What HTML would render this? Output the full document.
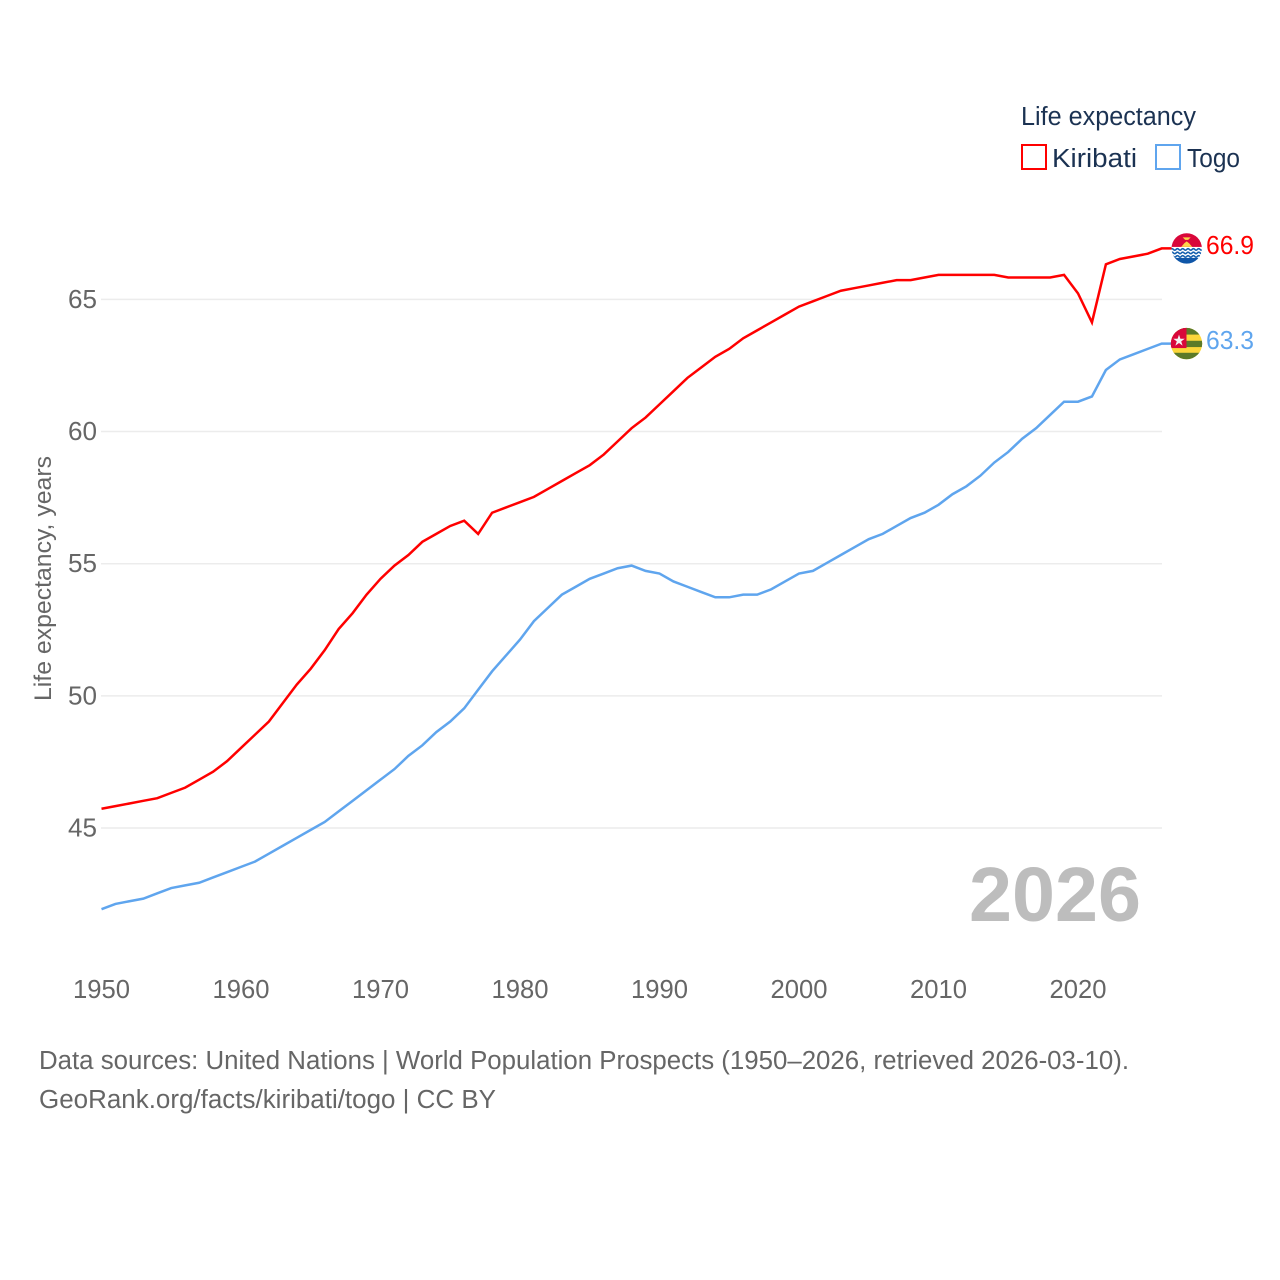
<!DOCTYPE html>
<html lang="en">
<head>
<meta charset="utf-8">
<title>Life expectancy: Kiribati and Togo</title>
<style>
html,body{margin:0;padding:0;background:#fff;width:1280px;height:1280px;overflow:hidden}
svg{display:block}
text{font-family:"Liberation Sans",sans-serif}
</style>
</head>
<body>
<svg id="chart" xmlns="http://www.w3.org/2000/svg" width="1280" height="1280" viewBox="0 0 1280 1280">
  <rect width="1280" height="1280" fill="#fff"/>
  <g id="grid"></g>
  <g id="yticks"></g>
  <g id="xticks"></g>
  <text transform="translate(51,701) rotate(-90)" font-size="24.5" fill="#666" textLength="245" lengthAdjust="spacingAndGlyphs">Life expectancy, years</text>
  <text x="969" y="921" font-size="77" font-weight="bold" fill="#bdbdbd" textLength="172" lengthAdjust="spacingAndGlyphs">2026</text>
  <g id="series"></g>

  <g>
    <text x="1021" y="125" font-size="25.5" fill="#1b3252" textLength="175" lengthAdjust="spacingAndGlyphs">Life expectancy</text>
    <g>
      <rect x="1022" y="145" width="24" height="24" fill="#fff" stroke="#ff0000" stroke-width="2"/>
      <text x="1052" y="167" font-size="25.5" fill="#1b3252" textLength="85" lengthAdjust="spacingAndGlyphs">Kiribati</text>
    </g>
    <g>
      <rect x="1156" y="145" width="24" height="24" fill="#fff" stroke="#5fa5ee" stroke-width="2"/>
      <text x="1187" y="167" font-size="25.5" fill="#1b3252" textLength="53" lengthAdjust="spacingAndGlyphs">Togo</text>
    </g>
  </g>

  <defs>
    <clipPath id="clip-k"><circle cx="0" cy="0" r="15.2"/></clipPath>
    <clipPath id="clip-t"><circle cx="0" cy="0" r="15.7"/></clipPath>
  </defs>
  <g id="flag-k" clip-path="url(#clip-k)">
    <rect x="-16" y="-16" width="32" height="15" fill="#d9073a"/>
    <rect x="-16" y="-1.500" width="32" height="11.500" fill="#fff"/>
    <rect x="-16" y="9.500" width="32" height="7" fill="#0f56a8"/>
    <path d="M-16 1q1.300-1.500 2.700 0t2.700 0t2.700 0t2.600 0t2.700 0t2.700 0t2.600 0t2.700 0t2.700 0t2.600 0t2.700 0t2.700 0" fill="none" stroke="#1560ae" stroke-width="1.600"/>
    <path d="M-16 4.500q1.300-1.500 2.700 0t2.700 0t2.700 0t2.600 0t2.700 0t2.700 0t2.600 0t2.700 0t2.700 0t2.600 0t2.700 0t2.700 0" fill="none" stroke="#1560ae" stroke-width="1.600"/>
    <path d="M-16 8q1.300-1.500 2.700 0t2.700 0t2.700 0t2.600 0t2.700 0t2.700 0t2.600 0t2.700 0t2.700 0t2.600 0t2.700 0t2.700 0" fill="none" stroke="#1560ae" stroke-width="1.600"/>
    <path d="M-5.500-1.500l3-3.500 2.500-2 2.500 2 3 3.500z" fill="#fcd34a"/>
    <path d="M-4-11h8l-2.500 2.500h-3z" fill="#fcd34a"/>
  </g>
  <g id="flag-t" clip-path="url(#clip-t)">
    <rect x="-16" y="-16" width="32" height="32" fill="#fcd63a"/>
    <rect x="-16" y="-16" width="32" height="7" fill="#5c7a28"/>
    <rect x="-16" y="-2.800" width="32" height="6.300" fill="#5c7a28"/>
    <rect x="-16" y="9.200" width="32" height="7" fill="#5c7a28"/>
    <rect x="-16" y="-16" width="16" height="20.500" fill="#d9073a"/>
    <path d="M-7.500-9l1.400 4.200h4.400l-3.600 2.600 1.400 4.200-3.600-2.600-3.600 2.600 1.400-4.200-3.600-2.600h4.400z" fill="#f2f2f2"/>
  </g>
  <text id="end-k" x="1206" y="254" font-size="25.5" fill="#ff0000" textLength="48" lengthAdjust="spacingAndGlyphs"></text>
  <text id="end-t" x="1206" y="349" font-size="25.5" fill="#5fa5ee" textLength="48" lengthAdjust="spacingAndGlyphs"></text>

  <g>
    <text x="39" y="1069" font-size="25.500" fill="#666" textLength="1090" lengthAdjust="spacingAndGlyphs">Data sources: United Nations | World Population Prospects (1950–2026, retrieved 2026-03-10).</text>
    <text x="39" y="1108" font-size="25.500" fill="#666" textLength="457" lengthAdjust="spacingAndGlyphs">GeoRank.org/facts/kiribati/togo | CC BY</text>
  </g>
</svg>
<script>
const startYear = 1950;
const kiribati = [45.7,45.8,45.9,46.0,46.1,46.3,46.5,46.8,47.1,47.5,48.0,48.5,49.0,49.7,50.4,51.0,51.7,52.5,53.1,53.8,54.4,54.9,55.3,55.8,56.1,56.4,56.6,56.1,56.9,57.1,57.3,57.5,57.8,58.1,58.4,58.7,59.1,59.6,60.1,60.5,61.0,61.5,62.0,62.4,62.8,63.1,63.5,63.8,64.1,64.4,64.7,64.9,65.1,65.3,65.4,65.5,65.6,65.7,65.7,65.8,65.9,65.9,65.9,65.9,65.9,65.8,65.8,65.8,65.8,65.9,65.2,64.1,66.3,66.5,66.6,66.7,66.9];
const togo = [41.9,42.1,42.2,42.3,42.5,42.7,42.8,42.9,43.1,43.3,43.5,43.7,44.0,44.3,44.6,44.9,45.2,45.6,46.0,46.4,46.8,47.2,47.7,48.1,48.6,49.0,49.5,50.2,50.9,51.5,52.1,52.8,53.3,53.8,54.1,54.4,54.6,54.8,54.9,54.7,54.6,54.3,54.1,53.9,53.7,53.7,53.8,53.8,54.0,54.3,54.6,54.7,55.0,55.3,55.6,55.9,56.1,56.4,56.7,56.9,57.2,57.6,57.9,58.3,58.8,59.2,59.7,60.1,60.6,61.1,61.1,61.3,62.3,62.7,62.9,63.1,63.3];
const yTicks = [45,50,55,60,65];
const xTicks = [1950,1960,1970,1980,1990,2000,2010,2020];

const NS = 'http://www.w3.org/2000/svg';
function xScale(year){ return 101.5 + (year - 1950) * 13.95; }
function yScale(v){ return 828 - (v - 45) * 26.43; }
function lineY(v){ return yScale(v) - 0.75; }
function make(tag, attrs, parent){
  const el = document.createElementNS(NS, tag);
  for (const k in attrs) el.setAttribute(k, attrs[k]);
  parent.appendChild(el);
  return el;
}
const grid = document.getElementById('grid');
const yG = document.getElementById('yticks');
const xG = document.getElementById('xticks');
const seriesG = document.getElementById('series');

yTicks.forEach(function(t){
  const line = make('line', {x1:101, x2:1162, y1:yScale(t), y2:yScale(t), stroke:'#ececec', 'stroke-width':1.5}, grid);
  
  
  const label = make('text', {x:97, y:yScale(t) + 8.500, 'text-anchor':'end', 'font-size':25.5, fill:'#666', textLength:29, lengthAdjust:'spacingAndGlyphs'}, yG);
  
  
  label.textContent = t;
});
xTicks.forEach(function(t){
  const label = make('text', {x:xScale(t), y:998, 'text-anchor':'middle', 'font-size':25.5, fill:'#666', textLength:57, lengthAdjust:'spacingAndGlyphs'}, xG);
  
  
  label.textContent = t;
});
function drawSeries(values, color, name){
  const pts = values.map(function(v, i){ return xScale(startYear + i).toFixed(2) + ',' + lineY(v).toFixed(2); });
  const last = values.length - 1;
  const endY = lineY(values[last]).toFixed(2);
  pts.push('1172,' + endY);
  const line = make('polyline', {points:pts.join(' '), fill:'none', stroke:color, 'stroke-width':2.5, 'stroke-linejoin':'miter'}, seriesG);
  
  
}
drawSeries(kiribati, '#ff0000', 'kiribati');
drawSeries(togo, '#5fa5ee', 'togo');

const lastK = kiribati[kiribati.length - 1];
const lastT = togo[togo.length - 1];
const kY = lineY(lastK);
const tY = lineY(lastT);
document.getElementById('flag-k').setAttribute('transform', 'translate(1186.7,' + kY.toFixed(2) + ')');
document.getElementById('flag-t').setAttribute('transform', 'translate(1186.5,' + tY.toFixed(2) + ')');
const endK = document.getElementById('end-k');
endK.textContent = lastK.toFixed(1);
endK.setAttribute('y', (kY + 5.500).toFixed(2));
const endT = document.getElementById('end-t');
endT.textContent = lastT.toFixed(1);
endT.setAttribute('y', (tY + 5.500).toFixed(2));
</script>
</body>
</html>
